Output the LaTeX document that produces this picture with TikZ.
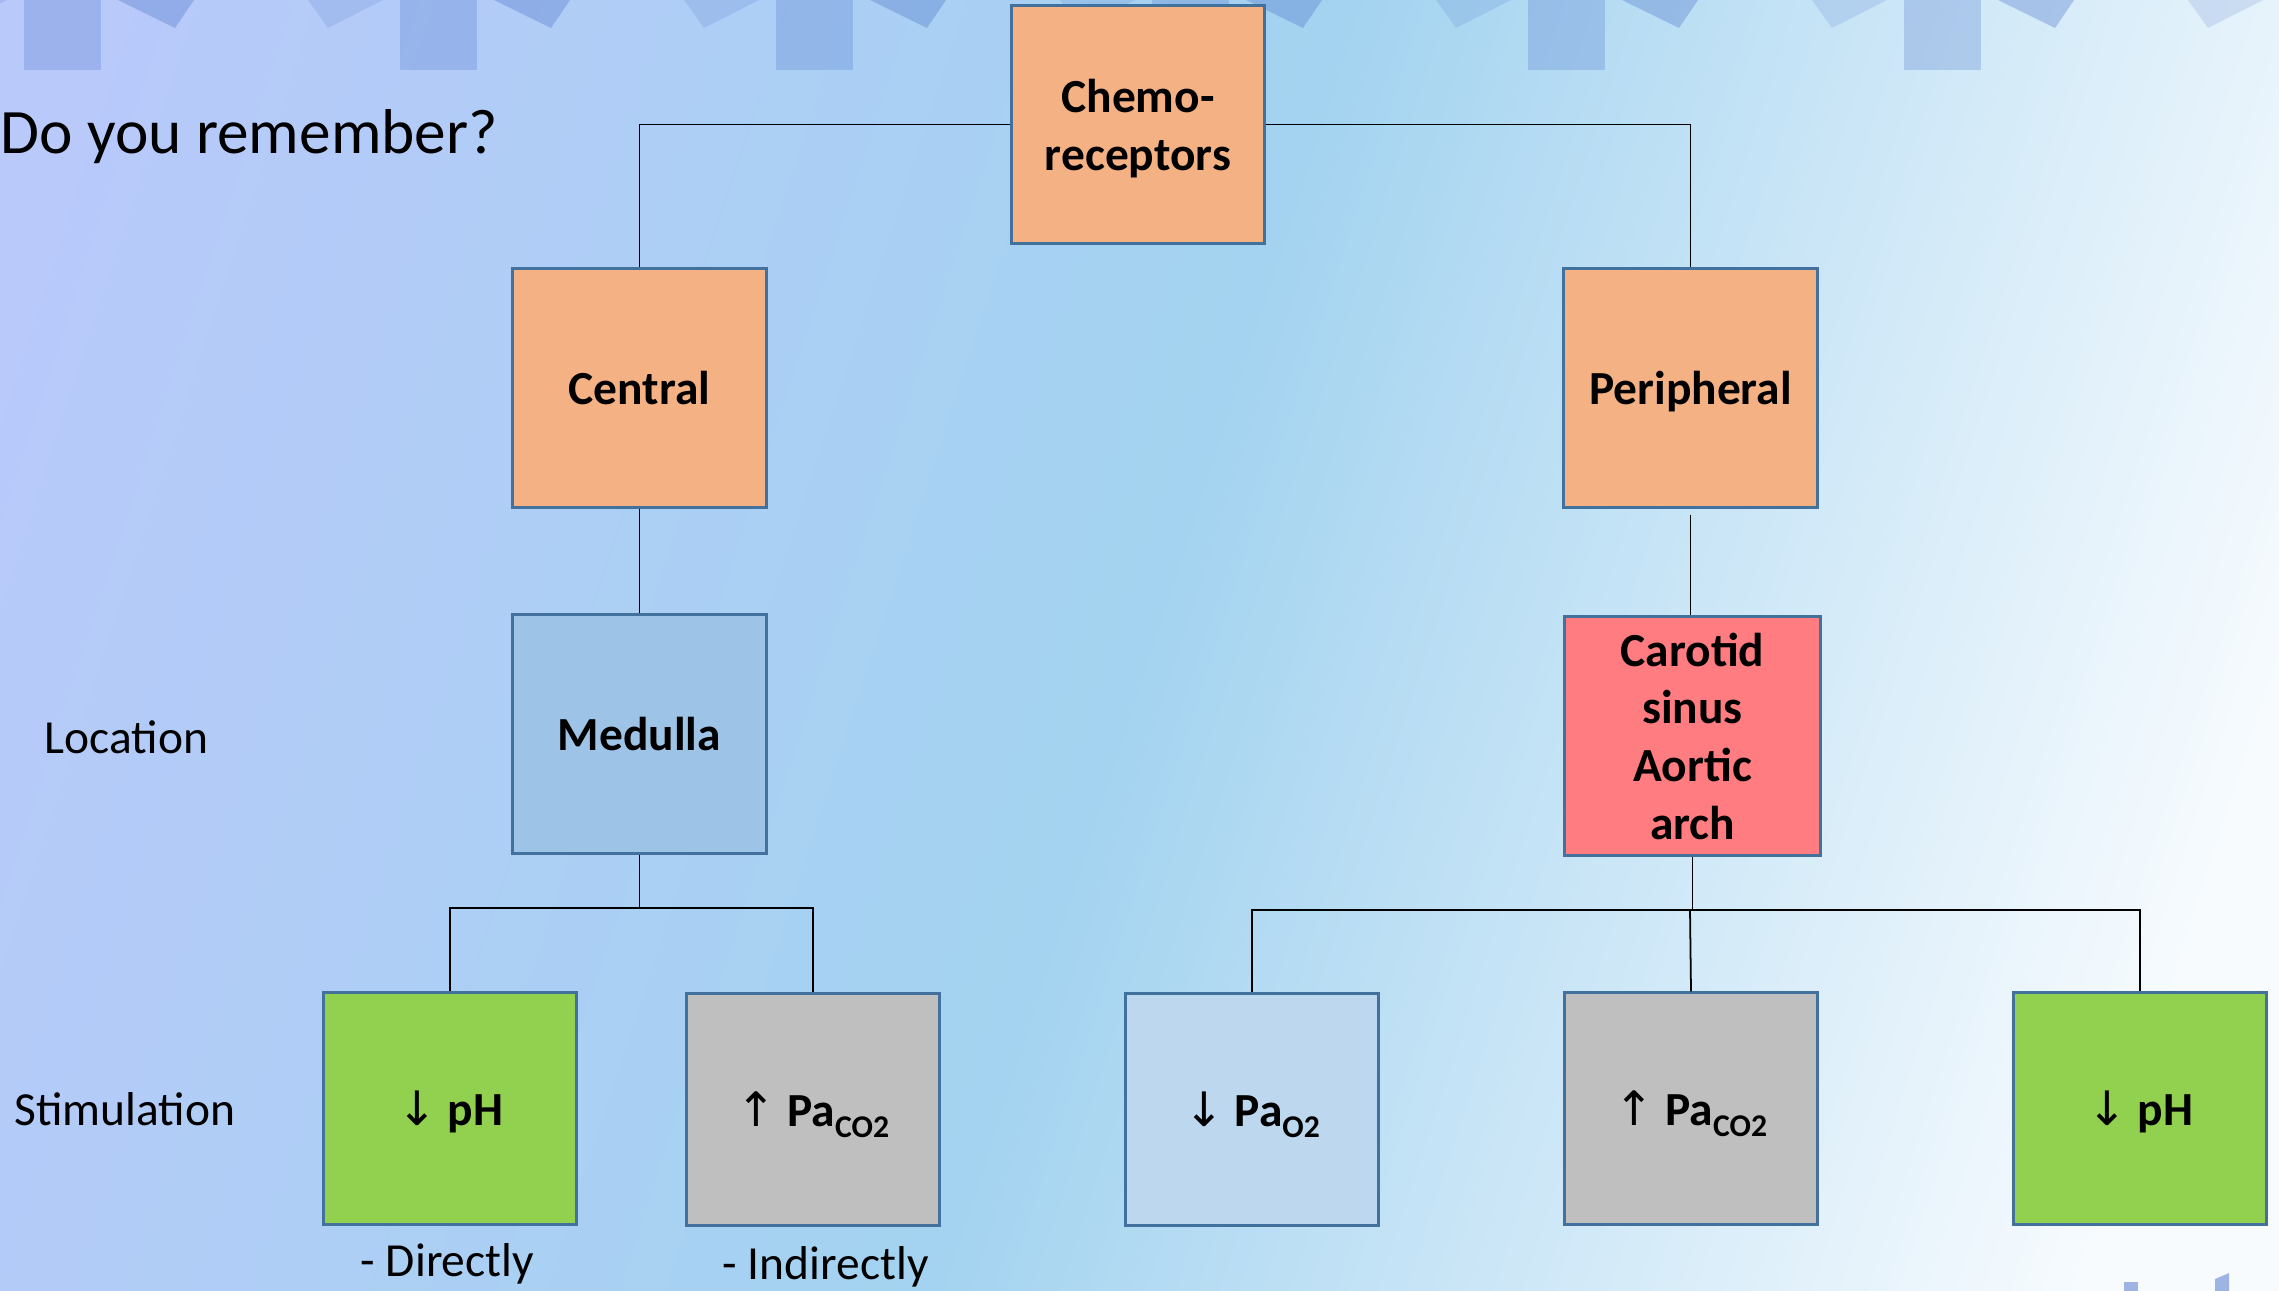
\documentclass[tikz,border=0pt]{standalone}
\usepackage{fontspec}
\setmainfont{Carlito}
\newfontfamily\symfont{DejaVu Sans}
\usetikzlibrary{calc}

\definecolor{bgA}{RGB}{184,201,250}
\definecolor{bgB}{RGB}{163,211,240}
\definecolor{bgC}{RGB}{247,251,254}
\definecolor{decoblue}{RGB}{70,110,200}
\definecolor{boxline}{RGB}{65,113,156}
\definecolor{orangebox}{RGB}{244,177,131}
\definecolor{medullabox}{RGB}{157,195,230}
\definecolor{redbox}{RGB}{255,124,128}
\definecolor{greenbox}{RGB}{146,208,80}
\definecolor{greybox}{RGB}{191,191,191}
\definecolor{paleblue}{RGB}{189,215,238}

\pgfdeclarehorizontalshading{bgshade}{100bp}{%
  color(0bp)=(bgA); color(21bp)=(bgA); color(50bp)=(bgB);
  color(77bp)=(bgC); color(100bp)=(bgC)}

\newcommand{\arrdown}{{\symfont\mdseries ↓}}
\newcommand{\arrup}{{\symfont\mdseries ↑}}
\newcommand{\lowidx}[1]{\raisebox{-0.22em}{\fontsize{9}{9}\selectfont #1}}

\tikzset{
  box/.style={draw=boxline, line width=0.85pt, align=center, inner sep=0pt,
    text depth=0pt, font=\fontsize{13.5}{16.4}\selectfont\bfseries},
  upper/.style={box, minimum width=2.53cm, minimum height=2.38cm},
  lower/.style={box, minimum width=2.52cm, minimum height=2.31cm},
  link/.style={draw=black, line width=0.5pt},
  label/.style={inner sep=0pt, font=\fontsize{13.5}{16.4}\selectfont},
  rectdeco/.style={fill=decoblue, fill opacity=0.25},
  darktri/.style={fill=decoblue, fill opacity=0.32},
  lighttri/.style={fill=decoblue, fill opacity=0.16},
}

\begin{document}
\begin{tikzpicture}[x=0.01cm, y=-0.01cm]
  \useasboundingbox (0,0) rectangle (2279,1290);
  \begin{scope}
    \clip (0,0) rectangle (2279,1290);
    % background gradient
    \shade[shading=bgshade, shading angle=-18] (0,0) rectangle (2279,1290);
    % bunting along the top edge
    \foreach \a in {24,400,776,1152,1528,1904,2280} {
      \fill[rectdeco] (\a,0) rectangle (\a+77,70);
      \fill[lighttri] (\a-92,0) -- (\a-17,0) -- (\a-72,28) -- cycle;
      \fill[darktri] (\a+94,0) -- (\a+170,0) -- (\a+151,28) -- cycle;
    }
    % shapes peeking in at the bottom right
    \fill[decoblue, fill opacity=0.5] (2124,1282) rectangle (2138,1295);
    \fill[decoblue, fill opacity=0.5] (2215,1279) -- (2229,1273) -- (2229,1295) -- (2215,1295) -- cycle;
  \end{scope}

  % title and row labels
  \node[anchor=base west, inner sep=0pt, font=\fontsize{18}{21}\selectfont] (title) at (0,153) {Do you remember?};
  \node[label, anchor=base west] (location) at (44,753) {Location};
  \node[label, anchor=base west] (stimulation) at (14,1125) {Stimulation};

  % hierarchy
  \node[upper, fill=orangebox, minimum width=2.52cm, minimum height=2.37cm] (chemo) at (1138,124.5) {Chemo-\\receptors};
  \node[upper, fill=orangebox] (central) at (639.5,388) {Central};
  \node[upper, fill=orangebox] (peripheral) at (1690.5,388) {Peripheral};
  \node[upper, fill=medullabox] (medulla) at (639.5,734) {Medulla};
  \node[upper, fill=redbox, minimum width=2.55cm] (carotid) at (1692.5,736) {Carotid\\sinus\\Aortic\\arch};

  \node[lower, fill=greenbox] (phL) at (450,1108.5) {\arrdown{} pH};
  \node[lower, fill=greybox] (pacoL) at (813,1109.5) {\arrup{} Pa\lowidx{CO2}};
  \node[lower, fill=paleblue] (pao) at (1252,1109.5) {\arrdown{} Pa\lowidx{O2}};
  \node[lower, fill=greybox] (pacoR) at (1691,1108.5) {\arrup{} Pa\lowidx{CO2}};
  \node[lower, fill=greenbox] (phR) at (2140,1108.5) {\arrdown{} pH};

  \node[label, anchor=base west] (direct) at (360,1276) {- Directly};
  \node[label, anchor=base west] (indirect) at (722,1279) {- Indirectly};

  % junction points of the tree
  \coordinate (mj) at (639.5,908);
  \coordinate (cj) at (1690,910);

  % connectors
  \draw[link] (chemo.west) -| (central.north);
  \draw[link] (chemo.east) -| (peripheral.north);
  \draw[link] (central.south) -- (medulla.north);
  \draw[link] ($(peripheral.south)+(0,6)$) -- (peripheral.south |- carotid.north);
  \draw[link] (medulla.south) -- (mj);
  \draw[link] (mj) -| (phL.north);
  \draw[link] (mj) -| (pacoL.north);
  \draw[link] (carotid.south) -- (carotid.south |- cj);
  \draw[link] (cj) -| (pao.north);
  \draw[link] (cj) -| (phR.north);
  \draw[link] (cj) -- (pacoR.north);
\end{tikzpicture}
\end{document}
